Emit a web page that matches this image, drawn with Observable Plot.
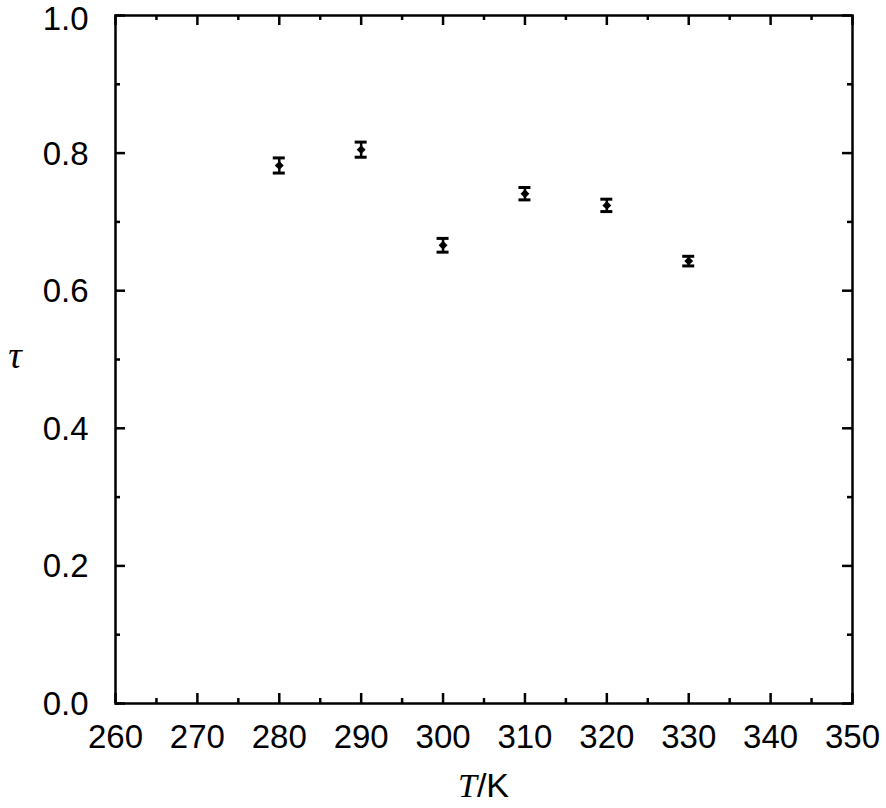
<!DOCTYPE html>
<html>
<head>
<meta charset="utf-8">
<script src="https://cdn.jsdelivr.net/npm/d3@7"></script>
<script src="https://cdn.jsdelivr.net/npm/@observablehq/plot@0.6"></script>
<style>
  html, body { margin: 0; padding: 0; background: #fff; }
  #chart svg { display: block; }
</style>
</head>
<body>
<div id="chart"></div>
<script>
// Data
const temperatures = [280, 290, 300, 310, 320, 330];
const tauValues    = [0.782, 0.805, 0.666, 0.741, 0.724, 0.643];
const tauErrors    = [0.011, 0.011, 0.010, 0.009, 0.009, 0.007];

const xMajorTicks = [260, 270, 280, 290, 300, 310, 320, 330, 340, 350];
const xMinorTicks = [265, 275, 285, 295, 305, 315, 325, 335, 345];
const yMajorTicks = [0.0, 0.2, 0.4, 0.6, 0.8, 1.0];
const yMinorTicks = [0.1, 0.3, 0.5, 0.7, 0.9];

const data = temperatures.map((t, i) => ({T: t, tau: tauValues[i], err: tauErrors[i]}));

const W = 886, H = 808;
const mT = 15, mR = 34, mB = 105, mL = 115;
const innerW = W - mL - mR, innerH = H - mT - mB;
const majorLen = 10, minorLen = 5;
const font = "'Liberation Sans', Arial, Helvetica, sans-serif";

const tickStyle = {stroke: "#000", strokeWidth: 2.5};
const yTop = yMajorTicks[yMajorTicks.length - 1];
const yLabelsInner = yMajorTicks.filter(v => v !== yTop);

const plot = Plot.plot({
  width: W, height: H,
  marginTop: mT, marginRight: mR, marginBottom: mB, marginLeft: mL,
  style: {fontFamily: font, fontSize: "33px", color: "#000", background: "#fff", overflow: "visible"},
  x: {domain: [260, 350], ticks: xMajorTicks, label: null},
  y: {domain: [0, 1], ticks: yMajorTicks, label: null},
  marks: [
    // inward ticks: bottom & top
    Plot.tickX(xMajorTicks, {x: d => d, insetTop: innerH - majorLen, ...tickStyle}),
    Plot.tickX(xMajorTicks, {x: d => d, insetBottom: innerH - majorLen, ...tickStyle}),
    Plot.tickX(xMinorTicks, {x: d => d, insetTop: innerH - minorLen, ...tickStyle}),
    Plot.tickX(xMinorTicks, {x: d => d, insetBottom: innerH - minorLen, ...tickStyle}),
    // inward ticks: left & right
    Plot.tickY(yMajorTicks, {y: d => d, insetRight: innerW - majorLen, ...tickStyle}),
    Plot.tickY(yMajorTicks, {y: d => d, insetLeft: innerW - majorLen, ...tickStyle}),
    Plot.tickY(yMinorTicks, {y: d => d, insetRight: innerW - minorLen, ...tickStyle}),
    Plot.tickY(yMinorTicks, {y: d => d, insetLeft: innerW - minorLen, ...tickStyle}),
    // tick labels
    Plot.axisX(xMajorTicks, {tickSize: 0, tickPadding: 21, fontSize: 33, label: null}),
    Plot.axisY(yLabelsInner, {tickSize: 0, tickPadding: 27, fontSize: 33, dy: 1, label: null, tickFormat: d3.format(".1f")}),
    Plot.axisY([yTop], {tickSize: 0, tickPadding: 27, fontSize: 33, dy: 4, label: null, tickFormat: d3.format(".1f")}),
    // error bars
    Plot.ruleX(data, {x: "T", y1: d => d.tau - d.err, y2: d => d.tau + d.err, stroke: "#000", strokeWidth: 2.5}),
    Plot.ruleY(data, {y: d => d.tau + d.err, x1: "T", x2: "T", insetLeft: -6, insetRight: -6, stroke: "#000", strokeWidth: 3}),
    Plot.ruleY(data, {y: d => d.tau - d.err, x1: "T", x2: "T", insetLeft: -6, insetRight: -6, stroke: "#000", strokeWidth: 3}),
    Plot.dot(data, {x: "T", y: "tau", r: 4, fill: "#000", stroke: "none", symbol: "diamond2"}),
    Plot.frame({stroke: "#000", strokeWidth: 2.5})
  ]
});

const svg = d3.select(plot);
// x-axis label: italic T / K
const xl = svg.append("text")
  .attr("x", mL + innerW / 2)
  .attr("y", 797)
  .attr("text-anchor", "middle")
  .attr("fill", "#000")
  .style("font-size", "34px");
xl.append("tspan").text("T")
  .style("font-family", "'Liberation Serif', 'Times New Roman', serif")
  .style("font-style", "italic");
xl.append("tspan").text("/K")
  .style("font-family", font);

// y-axis label: italic tau
svg.append("text")
  .attr("x", 15)
  .attr("y", 368)
  .attr("text-anchor", "middle")
  .attr("fill", "#000")
  .style("font-size", "38px")
  .style("font-family", "'Liberation Serif', 'Times New Roman', serif")
  .style("font-style", "italic")
  .text("τ");

document.getElementById("chart").appendChild(plot);
</script>
</body>
</html>
